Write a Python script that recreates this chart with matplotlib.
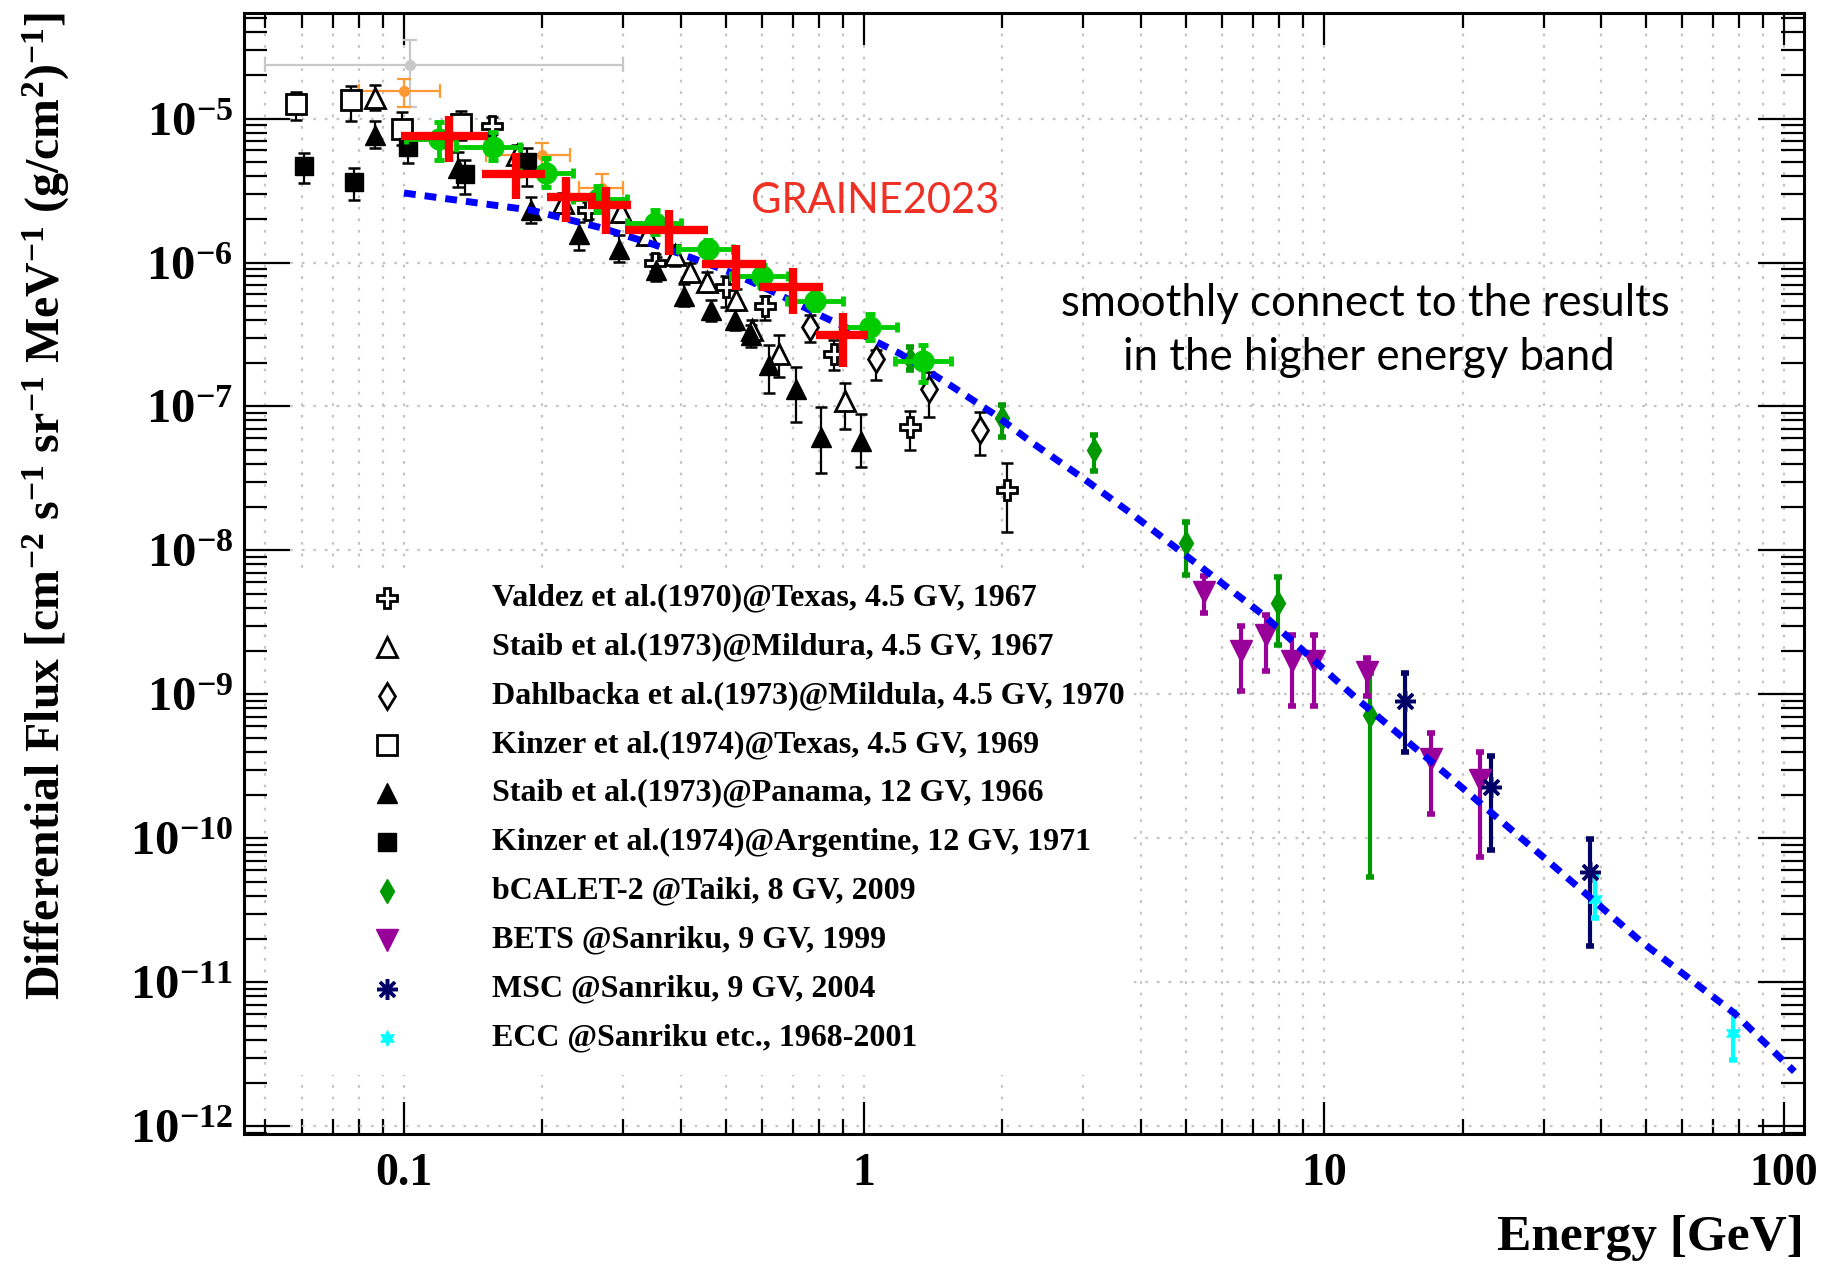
import numpy as np
import matplotlib
matplotlib.use("Agg")
import matplotlib.pyplot as plt
from matplotlib.ticker import LogLocator, FixedLocator, FuncFormatter, NullFormatter
from matplotlib.patches import Rectangle

plt.rcParams['font.family'] = ['Liberation Serif', 'DejaVu Serif']
plt.rcParams['font.weight'] = 'bold'
plt.rcParams['mathtext.fontset'] = 'custom'
plt.rcParams['mathtext.rm'] = 'Liberation Serif:bold'
plt.rcParams['mathtext.bf'] = 'Liberation Serif:bold'
plt.rcParams['mathtext.it'] = 'Liberation Serif:bold:italic'

# ---------------- data: energy [GeV], flux and error bounds ----------------
valdez_E = [0.155, 0.251, 0.352, 0.50, 0.61, 0.86, 1.256, 2.05]
valdez_F = [8.9e-6, 2.3e-6, 1.0e-6, 6.8e-7, 5.0e-7, 2.33e-7, 7.2e-8, 2.65e-8]
valdez_lo = [7.75e-6, 2.0e-6, 8.7e-7, 4.9e-7, 4.0e-7, 1.78e-7, 4.98e-8, 1.35e-8]
valdez_hi = [1.02e-5, 2.64e-6, 1.15e-6, 8.0e-7, 5.9e-7, 2.9e-7, 9.27e-8, 4.02e-8]

mildura_E = [0.0865, 0.176, 0.222, 0.297, 0.337, 0.388, 0.418, 0.455, 0.528, 0.571, 0.655, 0.91]
mildura_F = [1.38e-5, 5.6e-6, 2.6e-6, 2.25e-6, 1.55e-6, 1.12e-6, 8.6e-7, 7.3e-7, 5.5e-7, 3.39e-7, 2.3e-7, 1.1e-7]
mildura_lo = [1.15e-5, 4.8e-6, 2.2e-6, 1.9e-6, 1.32e-6, 9.5e-7, 7.3e-7, 6.2e-7, 4.7e-7, 2.85e-7, 1.61e-7, 7.03e-8]
mildura_hi = [1.72e-5, 6.5e-6, 3.05e-6, 2.65e-6, 1.82e-6, 1.32e-6, 1.0e-6, 8.6e-7, 6.5e-7, 4.0e-7, 3.12e-7, 1.46e-7]

dahl_E = [0.764, 1.064, 1.387, 1.786]
dahl_F = [3.57e-7, 2.12e-7, 1.33e-7, 6.84e-8]
dahl_lo = [2.81e-7, 1.53e-7, 8.47e-8, 4.59e-8]
dahl_hi = [4.31e-7, 2.45e-7, 1.74e-7, 9.18e-8]

ktexas_E = [0.0582, 0.0769, 0.099, 0.133]
ktexas_F = [1.26e-5, 1.34e-5, 8.5e-6, 9.2e-6]
ktexas_lo = [9.7e-6, 9.6e-6, 6.6e-6, 7.1e-6]
ktexas_hi = [1.53e-5, 1.67e-5, 1.11e-5, 1.13e-5]

panama_E = [0.0865, 0.131, 0.189, 0.240, 0.294, 0.353, 0.407, 0.464, 0.525, 0.567, 0.622, 0.71, 0.807, 0.986]
panama_F = [7.65e-6, 4.5e-6, 2.3e-6, 1.59e-6, 1.25e-6, 8.9e-7, 5.9e-7, 4.7e-7, 4.0e-7, 3.16e-7, 1.94e-7, 1.33e-7, 6.15e-8, 5.8e-8]
panama_lo = [6.2e-6, 3.35e-6, 1.88e-6, 1.23e-6, 1.01e-6, 7.4e-7, 5.0e-7, 3.9e-7, 3.4e-7, 2.6e-7, 1.24e-7, 7.8e-8, 3.46e-8, 3.77e-8]
panama_hi = [9.6e-6, 5.86e-6, 2.86e-6, 1.9e-6, 1.55e-6, 1.1e-6, 7.1e-7, 5.5e-7, 4.7e-7, 3.7e-7, 2.67e-7, 1.88e-7, 9.93e-8, 8.93e-8]

kargen_E = [0.0607, 0.078, 0.102, 0.136, 0.185]
kargen_F = [4.67e-6, 3.63e-6, 6.35e-6, 4.15e-6, 5.0e-6]
kargen_lo = [3.54e-6, 2.71e-6, 4.92e-6, 3.01e-6, 3.4e-6]
kargen_hi = [5.77e-6, 4.54e-6, 7.9e-6, 5.13e-6, 6.2e-6]

bcalet_E = [1.259, 2.0, 3.16, 5.02, 7.94, 12.6]
bcalet_F = [2.15e-7, 8.26e-8, 4.98e-8, 1.13e-8, 4.28e-9, 7.2e-10]
bcalet_lo = [1.79e-7, 6.1e-8, 3.57e-8, 6.75e-9, 2.2e-9, 5.4e-11]
bcalet_hi = [2.6e-7, 1.03e-7, 6.32e-8, 1.58e-8, 6.56e-9, 1.41e-9]

bets_E = [5.49, 6.59, 7.49, 8.5, 9.51, 12.4, 17.1, 21.8]
bets_F = [5.15e-9, 2.0e-9, 2.57e-9, 1.71e-9, 1.71e-9, 1.43e-9, 3.55e-10, 2.54e-10]
bets_lo = [3.65e-9, 1.05e-9, 1.45e-9, 8.3e-10, 8.3e-10, 9.7e-10, 1.47e-10, 7.45e-11]
bets_hi = [6.62e-9, 2.98e-9, 3.58e-9, 2.57e-9, 2.57e-9, 1.79e-9, 5.4e-10, 4.0e-10]

msc_E = [15.0, 23.1, 37.9]
msc_F = [9.04e-10, 2.27e-10, 5.8e-11]
msc_lo = [4.0e-10, 8.3e-11, 1.8e-11]
msc_hi = [1.41e-9, 3.75e-10, 9.95e-11]

ecc_E = [38.8, 77.3]
ecc_F = [3.8e-11, 4.47e-12]
ecc_lo = [2.81e-11, 2.91e-12]
ecc_hi = [5.5e-11, 6.24e-12]

# GRAINE2023 spectrum (energy bins)
graine_E = [0.125, 0.175, 0.225, 0.275, 0.376, 0.527, 0.702, 0.902]
graine_Elo = [0.0985, 0.148, 0.205, 0.251, 0.302, 0.444, 0.592, 0.787]
graine_Ehi = [0.152, 0.203, 0.262, 0.312, 0.459, 0.611, 0.813, 1.019]
graine_F = [7.53e-6, 4.15e-6, 2.86e-6, 2.5e-6, 1.69e-6, 9.73e-7, 6.78e-7, 3.13e-7]
graine_lo = [5.0e-6, 2.74e-6, 1.91e-6, 1.59e-6, 1.12e-6, 6.43e-7, 4.38e-7, 1.88e-7]
graine_hi = [1.05e-5, 5.77e-6, 3.93e-6, 3.35e-6, 2.33e-6, 1.33e-6, 9.23e-7, 4.43e-7]

# binned spectrum drawn with green circles
circ_E = [0.119, 0.156, 0.204, 0.264, 0.351, 0.459, 0.6, 0.783, 1.03, 1.345]
circ_Elo = [0.101, 0.13, 0.179, 0.233, 0.305, 0.395, 0.513, 0.68, 0.899, 1.168]
circ_Ehi = [0.13, 0.179, 0.233, 0.305, 0.401, 0.52, 0.685, 0.9, 1.178, 1.544]
circ_F = [7.26e-6, 6.35e-6, 4.19e-6, 2.78e-6, 1.88e-6, 1.25e-6, 8.07e-7, 5.38e-7, 3.54e-7, 2.07e-7]
circ_lo = [5.13e-6, 5.13e-6, 3.35e-6, 2.26e-6, 1.59e-6, 1.1e-6, 6.8e-7, 4.7e-7, 2.9e-7, 1.48e-7]
circ_hi = [9.46e-6, 8.07e-6, 5.28e-6, 3.4e-6, 2.31e-6, 1.43e-6, 9.6e-7, 6.2e-7, 4.4e-7, 2.67e-7]

orange_E = [0.1, 0.2, 0.27]
orange_Elo = [0.08, 0.151, 0.24]
orange_Ehi = [0.12, 0.23, 0.30]
orange_F = [1.55e-5, 5.55e-6, 3.27e-6]
orange_lo = [1.2e-5, 4.6e-6, 2.7e-6]
orange_hi = [1.87e-5, 6.8e-6, 4.1e-6]

gray_E = [0.103]
gray_Elo = [0.05]
gray_Ehi = [0.3]
gray_F = [2.37e-5]
gray_lo = [1.2e-5]
gray_hi = [3.54e-5]

# model curve
model_E = [0.1, 0.168, 0.189, 0.267, 0.343, 0.418, 0.52, 0.646, 0.802, 1.013, 1.197, 1.537,
           1.91, 2.333, 3.0, 3.85, 4.95, 7.39, 11.75, 18.9, 30.3, 48.5, 78.0, 105.3]
model_F = [3.04e-6, 2.43e-6, 2.31e-6, 1.75e-6, 1.36e-6, 1.09e-6, 8.4e-7, 6.1e-7, 4.3e-7, 3.04e-7,
           2.33e-7, 1.41e-7, 8.93e-8, 5.53e-8, 3.16e-8, 1.76e-8, 9.5e-9, 3.55e-9, 9.4e-10,
           2.61e-10, 7.2e-11, 1.96e-11, 6.1e-12, 2.4e-12]

legend_labels = [
    "Valdez et al.(1970)@Texas, 4.5 GV, 1967",
    "Staib et al.(1973)@Mildura, 4.5 GV, 1967",
    "Dahlbacka et al.(1973)@Mildula, 4.5 GV, 1970",
    "Kinzer et al.(1974)@Texas, 4.5 GV, 1969",
    "Staib et al.(1973)@Panama, 12 GV, 1966",
    "Kinzer et al.(1974)@Argentine, 12 GV, 1971",
    "bCALET-2 @Taiki, 8 GV, 2009",
    "BETS @Sanriku, 9 GV, 1999",
    "MSC @Sanriku, 9 GV, 2004",
    "ECC @Sanriku etc., 1968-2001",
]

# ---------------- styles ----------------
BLACK_ERR = dict(ecolor='black', elinewidth=1.6, capsize=4.3, capthick=1.8)
styles = [
    dict(marker='P', ms=15, mfc='white', mec='black', mew=2.0),
    dict(marker='^', ms=15, mfc='white', mec='black', mew=2.0),
    dict(marker='d', ms=13, mfc='white', mec='black', mew=2.0),
    dict(marker='s', ms=14, mfc='white', mec='black', mew=2.0),
    dict(marker='^', ms=14, mfc='black', mec='black', mew=1.0),
    dict(marker='s', ms=13, mfc='black', mec='black', mew=1.0),
    dict(marker='d', ms=12, mfc='#009900', mec='#009900', mew=1.0),
    dict(marker='v', ms=16, mfc='#990099', mec='#990099', mew=1.0),
    dict(marker=(8, 2, 0), ms=15, mfc='#000066', mec='#000066', mew=2.5),
    dict(marker=(6, 1, 0), ms=11, mfc='#00ffff', mec='#00ffff', mew=1.0),
]
err_styles = [
    BLACK_ERR, BLACK_ERR, BLACK_ERR, BLACK_ERR, BLACK_ERR, BLACK_ERR,
    dict(ecolor='#009900', elinewidth=3.0, capsize=3.0, capthick=4.0),
    dict(ecolor='#990099', elinewidth=3.0, capsize=3.0, capthick=4.0),
    dict(ecolor='#000066', elinewidth=3.0, capsize=3.0, capthick=4.0),
    dict(ecolor='#00ffff', elinewidth=3.0, capsize=3.0, capthick=4.0),
]
series = [
    (valdez_E, valdez_F, valdez_lo, valdez_hi),
    (mildura_E, mildura_F, mildura_lo, mildura_hi),
    (dahl_E, dahl_F, dahl_lo, dahl_hi),
    (ktexas_E, ktexas_F, ktexas_lo, ktexas_hi),
    (panama_E, panama_F, panama_lo, panama_hi),
    (kargen_E, kargen_F, kargen_lo, kargen_hi),
    (bcalet_E, bcalet_F, bcalet_lo, bcalet_hi),
    (bets_E, bets_F, bets_lo, bets_hi),
    (msc_E, msc_F, msc_lo, msc_hi),
    (ecc_E, ecc_F, ecc_lo, ecc_hi),
]

# ---------------- figure ----------------
W, H = 1824, 1264
fig = plt.figure(figsize=(W / 100, H / 100), dpi=100)
L, R, T, B = 244, 1804, 13, 1134
ax = fig.add_axes([L / W, 1 - B / H, (R - L) / W, (B - T) / H])
ax.set_xscale('log')
ax.set_yscale('log')
ax.set_xlim(0.0449, 110.5)
ax.set_ylim(8.84e-13, 5.41e-5)
ax.set_axisbelow(True)


def yerr(F, lo, hi):
    F = np.asarray(F); lo = np.asarray(lo); hi = np.asarray(hi)
    return [F - lo, hi - F]


def xerr(E, elo, ehi):
    E = np.asarray(E); elo = np.asarray(elo); ehi = np.asarray(ehi)
    return [E - elo, ehi - E]


# gray and orange points
ax.errorbar(gray_E, gray_F, xerr=xerr(gray_E, gray_Elo, gray_Ehi), yerr=yerr(gray_F, gray_lo, gray_hi),
            fmt='o', ms=7, color='#c8c8c8', elinewidth=1.6, capsize=5, capthick=1.6, zorder=2)
ax.errorbar(orange_E, orange_F, xerr=xerr(orange_E, orange_Elo, orange_Ehi),
            yerr=yerr(orange_F, orange_lo, orange_hi),
            fmt='o', ms=7, color='#ff9933', elinewidth=1.6, capsize=5, capthick=1.6, zorder=2.2)

# archival measurements
for (E, F, lo, hi), st, es in zip(series, styles, err_styles):
    ax.errorbar(E, F, yerr=yerr(F, lo, hi), fmt='none', zorder=3, **es)
    ax.plot(E, F, linestyle='none', zorder=3.2, **st)

# model curve
ax.plot(model_E, model_F, color='#0000ff', lw=5.0, linestyle=(0, (1.7, 1.3)),
        dash_capstyle='butt', zorder=3.5)

# green circles
ax.errorbar(circ_E, circ_F, xerr=xerr(circ_E, circ_Elo, circ_Ehi), yerr=yerr(circ_F, circ_lo, circ_hi),
            fmt='o', ms=15, color='#00cc00', elinewidth=3.5, capsize=3.5, capthick=3.5, zorder=4)

# GRAINE2023
ax.errorbar(graine_E, graine_F, xerr=xerr(graine_E, graine_Elo, graine_Ehi),
            yerr=yerr(graine_F, graine_lo, graine_hi),
            fmt='none', ecolor='#ff0000', elinewidth=6.0, capsize=0, zorder=5)

# ---------------- axes cosmetics ----------------
for sp in ax.spines.values():
    sp.set_linewidth(2.2)
ax.xaxis.set_major_locator(FixedLocator([0.1, 1, 10, 100]))
ax.xaxis.set_minor_locator(LogLocator(base=10, subs=np.arange(2, 10), numticks=30))
ax.yaxis.set_major_locator(LogLocator(base=10, numticks=30))
ax.yaxis.set_minor_locator(LogLocator(base=10, subs=np.arange(2, 10), numticks=30))
ax.xaxis.set_major_formatter(FuncFormatter(lambda v, p: {0.1: '0.1', 1: '1', 10: '10', 100: '100'}.get(round(v, 3), '')))
ax.xaxis.set_minor_formatter(NullFormatter())
ax.yaxis.set_major_formatter(FuncFormatter(lambda v, p: r'$10^{%d}$' % int(round(np.log10(v)))))
ax.yaxis.set_minor_formatter(NullFormatter())
ax.tick_params(axis='both', which='both', direction='in', top=True, right=True, width=1.6)
ax.tick_params(axis='x', which='major', length=23, labelsize=33, pad=14)
ax.tick_params(axis='x', which='minor', length=11)
ax.tick_params(axis='y', which='major', length=33, labelsize=35, pad=8)
ax.tick_params(axis='y', which='minor', length=16.5)

grid_kw = dict(color='#c4c4c4', linewidth=1.6, linestyle=(0, (1.2, 4.0)))
ax.grid(True, which='both', axis='x', **grid_kw)
ax.grid(True, which='major', axis='y', **grid_kw)

# white panel under the key
ax.add_patch(Rectangle(((268 - L) / (R - L), (B - 1075) / (B - T)), (1132 - 268) / (R - L),
                       (1075 - 570) / (B - T), transform=ax.transAxes, facecolor='white',
                       edgecolor='none', zorder=1))

# key
row_y = [598, 647, 696, 744.5, 793, 842, 891, 940, 989, 1038]
for yy, st, lab in zip(row_y, styles, legend_labels):
    ya = (B - yy) / (B - T)
    ax.plot([(387 - L) / (R - L)], [ya], transform=ax.transAxes, clip_on=False, zorder=6, **st)
    ax.text((492 - L) / (R - L), ya, lab, transform=ax.transAxes, ha='left', va='center',
            fontsize=23, fontweight='bold', zorder=6)

# axis titles
ylab = ax.set_ylabel(r'Differential Flux [cm$^{-2}$ s$^{-1}$ sr$^{-1}$ MeV$^{-1}$ (g/cm$^{2}$)$^{-1}$]',
                     fontsize=34.5, fontweight='bold')
ylab.set_rotation_mode('anchor')
ylab.set_ha('right')
ylab.set_va('center')
ax.yaxis.set_label_coords((46 - L) / (R - L), (B - 12) / (B - T))
xlab = ax.set_xlabel('Energy [GeV]', fontsize=37, fontweight='bold')
xlab.set_ha('right')
xlab.set_va('baseline')
ax.xaxis.set_label_coords(1.0, (B - 1250) / (B - T))

# annotations
ax.text((875 - L) / (R - L), (B - 213) / (B - T), 'GRAINE2023', transform=ax.transAxes,
        ha='center', va='baseline', fontsize=30, color='#ee3124', family='Lato', fontweight='normal')
ax.text((1365 - L) / (R - L), (B - 316) / (B - T), 'smoothly connect to the results',
        transform=ax.transAxes, ha='center', va='baseline', fontsize=31.5, family='Lato',
        fontweight='normal', color='black')
ax.text((1369 - L) / (R - L), (B - 370) / (B - T), 'in the higher energy band',
        transform=ax.transAxes, ha='center', va='baseline', fontsize=31.5, family='Lato',
        fontweight='normal', color='black')

fig.savefig('out.png', dpi=100)
